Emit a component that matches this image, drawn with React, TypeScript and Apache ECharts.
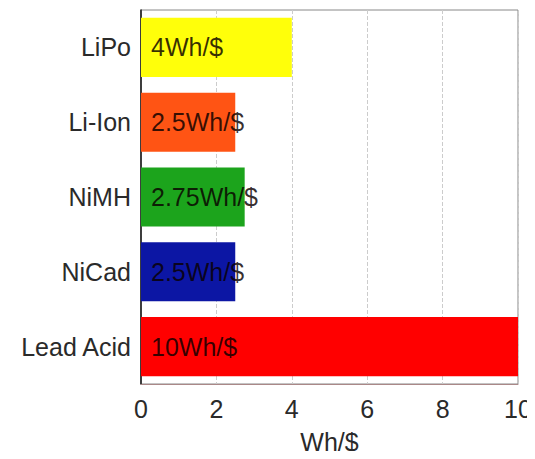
import React, { useEffect, useRef } from "react";
import * as echarts from "echarts";

const categories = ["Lead Acid", "NiCad", "NiMH", "Li-Ion", "LiPo"];
const values = [10, 2.5, 2.75, 2.5, 4];
const valueLabels = ["10Wh/$", "2.5Wh/$", "2.75Wh/$", "2.5Wh/$", "4Wh/$"];
const barColors = ["#ff0000", "#0c16a4", "#1ca41c", "#ff5414", "#ffff0a"];
const xTicks = [0, 2, 4, 6, 8, 10];
const axisTitle = "Wh/$";

export default function App() {
  const ref = useRef<HTMLDivElement>(null);
  useEffect(() => {
    if (!ref.current) return;
    const chart = echarts.init(ref.current, null, { renderer: "svg" });
    const font = "'Liberation Sans', Arial, sans-serif";
    chart.setOption({
      animation: false,
      backgroundColor: "#ffffff",
      grid: {
        left: 141,
        right: 17,
        top: 10,
        bottom: 69,
        show: true,
        borderColor: "#888",
        borderWidth: 1,
      },
      xAxis: {
        type: "value",
        min: xTicks[0],
        max: xTicks[xTicks.length - 1],
        interval: 2,
        name: axisTitle,
        nameLocation: "middle",
        nameGap: 45,
        nameTextStyle: { color: "#2a2a2a", fontSize: 25, fontFamily: font },
        axisLine: { show: true, lineStyle: { color: "#a88" } },
        axisTick: { show: false },
        axisLabel: { color: "#2a2a2a", fontSize: 25, fontFamily: font, margin: 12 },
        splitLine: { show: true, lineStyle: { color: "#ccc", type: "dashed" } },
      },
      yAxis: {
        type: "category",
        data: categories,
        axisLine: { show: true, lineStyle: { color: "#111", width: 1.5 } },
        axisTick: { show: false },
        axisLabel: { color: "#2a2a2a", fontSize: 25, fontFamily: font, margin: 10 },
      },
      series: [
        {
          type: "bar",
          barCategoryGap: "21%",
          data: values.map((v, i) => ({
            value: v,
            itemStyle: { color: barColors[i] },
            label: { formatter: valueLabels[i] },
          })),
          label: {
            show: true,
            position: "insideLeft",
            distance: 10,
            color: "rgba(10,0,0,0.82)",
            fontSize: 25,
            fontFamily: font,
          },
        },
      ],
    });
    return () => chart.dispose();
  }, []);
  return <div ref={ref} style={{ width: 535, height: 459, margin: -8 }} />;
}
